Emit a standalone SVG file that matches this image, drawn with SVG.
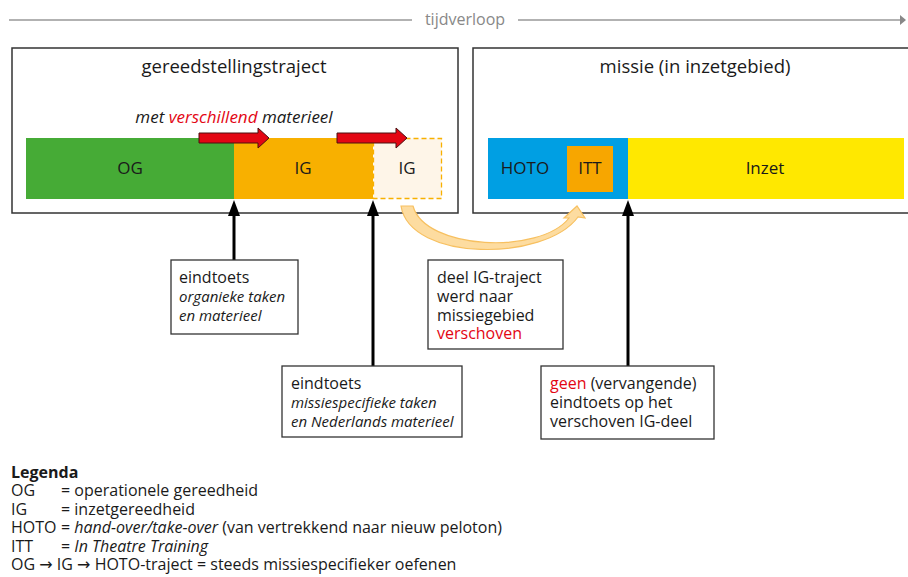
<svg xmlns="http://www.w3.org/2000/svg" width="908" height="577" viewBox="0 0 908 577">
<defs>
<style>
text{font-family:"Open Sans","Noto Sans","Liberation Sans",sans-serif;fill:#1a1a1a}
.frame{fill:#fff;stroke:#333;stroke-width:1.5}
.note{fill:#fff;stroke:#333;stroke-width:1.3}
.t16{font-size:16px}
.t17{font-size:17px}
.title{font-size:18.5px}
.it{font-style:italic}
.nit{font-size:15px;font-style:italic}
.red{fill:#e30613}
.conn{stroke:#000;stroke-width:3;fill:none}
.redarrow{fill:#e30613;stroke:#4a1010;stroke-width:1}
.arr{font-family:"DejaVu Sans",sans-serif}
</style>
<marker id="ah" markerWidth="16" markerHeight="12" refX="10" refY="6" orient="auto" markerUnits="userSpaceOnUse" viewBox="0 0 16 12">
<path d="M0,0 L16,6 L0,12 Z" fill="#000"/>
</marker>
</defs>
<rect width="908" height="577" fill="#fff"/>

<g id="timeline">
<line x1="9" y1="20" x2="412" y2="20" stroke="#999" stroke-width="1.5"/>
<line x1="518" y1="20" x2="900" y2="20" stroke="#999" stroke-width="1.5"/>
<path d="M900,15 L906,20 L900,25 Z" fill="#888"/>
<text x="465" y="25" text-anchor="middle" style="fill:#888;font-size:16px">tijdverloop</text>
</g>

<g id="gereedstelling">
<rect x="12" y="48" width="446" height="165" class="frame"/>
<text x="234" y="73" class="title" text-anchor="middle">gereedstellingstraject</text>
<text x="234" y="123" class="t17 it" text-anchor="middle">met <tspan class="red">verschillend</tspan> materieel</text>
</g>

<g id="og">
<rect x="26" y="138" width="208" height="61" fill="#46ab36"/>
<text x="130" y="174" class="t17" text-anchor="middle">OG</text>
</g>
<g id="ig1">
<rect x="234" y="138" width="139" height="61" fill="#f8b000"/>
<text x="303" y="174" class="t17" text-anchor="middle">IG</text>
</g>
<g id="ig2">
<rect x="373.5" y="138.5" width="68" height="60" fill="#fef5e8" stroke="#f8b000" stroke-width="1.3" stroke-dasharray="5,3"/>
<text x="407" y="174" class="t17" text-anchor="middle">IG</text>
</g>
<g id="redarrows">
<path d="M199,133 L258,133 L258,128 L269,138 L258,148 L258,143 L199,143 Z" class="redarrow"/>
<path d="M337,133 L396,133 L396,128 L407,138 L396,148 L396,143 L337,143 Z" class="redarrow"/>
</g>

<g id="missie">
<rect x="473" y="48" width="450" height="165" class="frame"/>
<text x="695" y="73" class="title" text-anchor="middle">missie (in inzetgebied)</text>
</g>
<g id="hoto">
<rect x="488" y="138" width="140" height="61" fill="#009fe3"/>
<text x="525" y="174" class="t17" text-anchor="middle">HOTO</text>
</g>
<g id="itt">
<rect x="567" y="146" width="46" height="46" fill="#f7a600"/>
<text x="590" y="174" class="t17" text-anchor="middle">ITT</text>
</g>
<g id="inzet">
<rect x="628" y="138" width="276" height="61" fill="#ffe800"/>
<text x="765" y="174" class="t17" text-anchor="middle">Inzet</text>
</g>

<g id="connectors">
<line x1="234" y1="260" x2="234" y2="206" class="conn" marker-end="url(#ah)"/>
<line x1="373" y1="366" x2="373" y2="206" class="conn" marker-end="url(#ah)"/>
<line x1="628" y1="366" x2="628" y2="206" class="conn" marker-end="url(#ah)"/>
<path d="M401,206 C410,262 545,262 578,217 L585,218 L577,206 L564,218 L569,218 C540,255 425,250 413,206 Z" fill="#fddca0" stroke="#f7c060" stroke-width="1.2"/>
</g>

<g id="note1">
<rect x="171" y="260" width="127" height="74" class="note"/>
<text x="179" y="283" class="t16">eindtoets</text>
<text x="179" y="302" class="nit">organieke taken</text>
<text x="179" y="321" class="nit">en materieel</text>
</g>
<g id="note2">
<rect x="282" y="366" width="180" height="71" class="note"/>
<text x="291" y="389" class="t16">eindtoets</text>
<text x="291" y="408" class="nit">missiespecifieke taken</text>
<text x="291" y="427" class="nit">en Nederlands materieel</text>
</g>
<g id="note3">
<rect x="428" y="260" width="135" height="89" class="note"/>
<text x="437" y="283" class="t16">deel IG-traject</text>
<text x="437" y="302" class="t16">werd naar</text>
<text x="437" y="321" class="t16">missiegebied</text>
<text x="437" y="339" class="t16 red">verschoven</text>
</g>
<g id="note4">
<rect x="541" y="366" width="173" height="73" class="note"/>
<text x="550" y="389" class="t16"><tspan class="red">geen</tspan> (vervangende)</text>
<text x="550" y="408" class="t16">eindtoets op het</text>
<text x="550" y="427" class="t16">verschoven IG-deel</text>
</g>

<g id="legend" class="t16">
<text x="11" y="478" style="font-weight:bold">Legenda</text>
<text x="11" y="496">OG</text><text x="61" y="496">= operationele gereedheid</text>
<text x="11" y="515">IG</text><text x="61" y="515">= inzetgereedheid</text>
<text x="11" y="533">HOTO</text><text x="61" y="533">= <tspan class="it">hand-over/take-over</tspan> (van vertrekkend naar nieuw peloton)</text>
<text x="11" y="552">ITT</text><text x="61" y="552">= <tspan class="it">In Theatre Training</tspan></text>
<text x="11" y="570">OG <tspan class="arr">→</tspan> IG <tspan class="arr">→</tspan> HOTO-traject = steeds missiespecifieker oefenen</text>
</g>
</svg>
